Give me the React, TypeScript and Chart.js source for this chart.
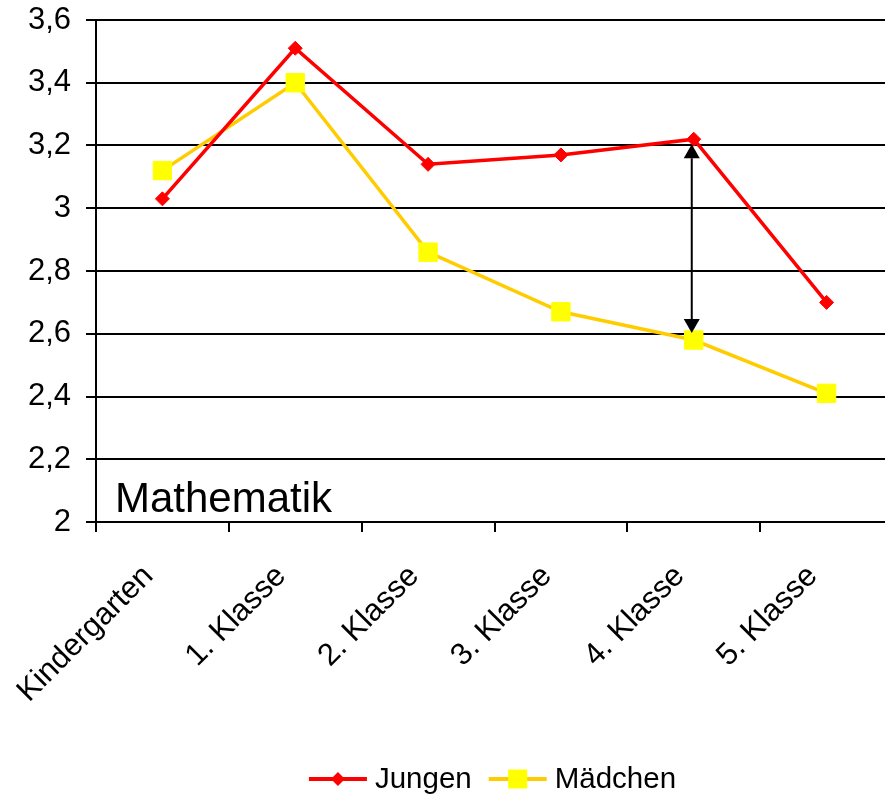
import { useEffect, useRef } from "react";
import { Chart, registerables } from "chart.js";

Chart.register(...registerables);

const categories = ["Kindergarten", "1. Klasse", "2. Klasse", "3. Klasse", "4. Klasse", "5. Klasse"];
const jungen = [3.03, 3.51, 3.14, 3.17, 3.22, 2.7];
const maedchen = [3.12, 3.4, 2.86, 2.67, 2.58, 2.41];
const yTicks = [2, 2.2, 2.4, 2.6, 2.8, 3, 3.2, 3.4, 3.6];
const subjectLabel = "Mathematik";
const gapCategoryIndex = 4; // arrow marks the gap at "4. Klasse"

const FONT = "'Liberation Sans', Arial, sans-serif";
const RED = "#ff0000";
const GOLD = "#ffcc00";
const YELLOW = "#ffff00";

const formatTick = (v: number) => String(Math.round(v * 10) / 10).replace(".", ",");

// Draws the subject caption, the double-headed gap arrow and the legend
const overlayPlugin = {
  id: "overlay",
  afterDraw(chart: any) {
    const { ctx, chartArea, scales } = chart;
    const x = scales.x;
    const y = scales.y;

    ctx.save();

    // subject caption
    ctx.fillStyle = "#000";
    ctx.font = `42px ${FONT}`;
    ctx.textAlign = "left";
    ctx.textBaseline = "alphabetic";
    ctx.fillText(subjectLabel, chartArea.left + 19, chartArea.bottom - 10);

    // double arrow between the two series
    const ax = x.getPixelForValue(gapCategoryIndex) - 2;
    const yTop = y.getPixelForValue(jungen[gapCategoryIndex]) + 5;
    const yBot = y.getPixelForValue(maedchen[gapCategoryIndex]) - 7;
    const headH = 14;
    const headW = 8;
    ctx.strokeStyle = "#000";
    ctx.lineWidth = 2;
    ctx.beginPath();
    ctx.moveTo(ax, yTop + headH);
    ctx.lineTo(ax, yBot - headH);
    ctx.stroke();
    ctx.fillStyle = "#000";
    ctx.beginPath();
    ctx.moveTo(ax, yTop);
    ctx.lineTo(ax - headW, yTop + headH);
    ctx.lineTo(ax + headW, yTop + headH);
    ctx.closePath();
    ctx.fill();
    ctx.beginPath();
    ctx.moveTo(ax, yBot);
    ctx.lineTo(ax - headW, yBot - headH);
    ctx.lineTo(ax + headW, yBot - headH);
    ctx.closePath();
    ctx.fill();

    // legend
    const items = chart.data.datasets.map((ds: any) => ({
      label: ds.label,
      line: ds.borderColor,
      fill: ds.pointBackgroundColor,
      style: ds.pointStyle,
      radius: ds.pointRadius,
    }));
    ctx.font = `29.5px ${FONT}`;
    const lineLen = 58;
    const textGap = 8;
    const itemGap = 17;
    const widths = items.map((it: any) => lineLen + textGap + ctx.measureText(it.label).width);
    const total = widths.reduce((a: number, b: number) => a + b, 0) + itemGap * (items.length - 1);
    let lx = (chartArea.left + chartArea.right) / 2 - total / 2 - 2;
    const ly = 779;
    items.forEach((it: any, i: number) => {
      ctx.strokeStyle = it.line;
      ctx.lineWidth = 4;
      ctx.beginPath();
      ctx.moveTo(lx, ly);
      ctx.lineTo(lx + lineLen, ly);
      ctx.stroke();
      const cx = lx + lineLen / 2;
      ctx.fillStyle = it.fill;
      ctx.beginPath();
      if (it.style === "rect") {
        ctx.rect(cx - 9.5, ly - 9.5, 19, 19);
      } else {
        const r = it.radius;
        ctx.moveTo(cx - r, ly);
        ctx.lineTo(cx, ly - r);
        ctx.lineTo(cx + r, ly);
        ctx.lineTo(cx, ly + r);
        ctx.closePath();
      }
      ctx.fill();
      ctx.fillStyle = "#000";
      ctx.textAlign = "left";
      ctx.textBaseline = "middle";
      ctx.fillText(it.label, lx + lineLen + textGap, ly + 1);
      lx += widths[i] + itemGap;
    });

    ctx.restore();
  },
};

export default function App() {
  const canvasRef = useRef<HTMLCanvasElement | null>(null);

  useEffect(() => {
    if (!canvasRef.current) return;
    const chart = new Chart(canvasRef.current, {
      type: "line",
      data: {
        labels: categories,
        datasets: [
          {
            label: "Jungen",
            data: jungen,
            borderColor: RED,
            backgroundColor: RED,
            borderWidth: 3.5,
            pointStyle: "rectRot",
            pointRadius: 7,
            pointBackgroundColor: RED,
            pointBorderColor: RED,
            pointBorderWidth: 1,
            tension: 0,
          },
          {
            label: "Mädchen",
            data: maedchen,
            borderColor: GOLD,
            backgroundColor: YELLOW,
            borderWidth: 3.5,
            pointStyle: "rect",
            pointRadius: 13,
            pointBackgroundColor: YELLOW,
            pointBorderColor: YELLOW,
            pointBorderWidth: 1,
            tension: 0,
          },
        ],
      },
      options: {
        responsive: false,
        animation: false,
        events: [],
        layout: { padding: { top: 20, left: 0, right: 0, bottom: 0 } },
        plugins: {
          legend: { display: false },
          tooltip: { enabled: false },
          title: { display: false },
        },
        scales: {
          x: {
            type: "category",
            offset: true,
            grid: {
              offset: true,
              drawOnChartArea: false,
              drawTicks: true,
              tickLength: 10,
              color: "#000",
              lineWidth: 2,
            },
            border: { display: true, color: "#000", width: 2 },
            ticks: {
              autoSkip: false,
              maxRotation: 45,
              minRotation: 45,
              padding: 26,
              labelOffset: -14,
              color: "#000",
              font: { family: FONT, size: 31 },
            },
            afterFit: (scale: any) => {
              scale.height = 273;
            },
          },
          y: {
            min: 2,
            max: 3.6,
            afterBuildTicks: (scale: any) => {
              scale.ticks = yTicks.map((v) => ({ value: v }));
            },
            grid: {
              color: "#000",
              lineWidth: 2,
              drawTicks: true,
              tickLength: 10,
            },
            border: { display: true, color: "#000", width: 2 },
            ticks: {
              padding: 15,
              color: "#000",
              font: { family: FONT, size: 31 },
              callback: (v: any) => formatTick(Number(v)),
            },
            afterFit: (scale: any) => {
              scale.width = 96;
              scale.paddingTop = 0;
              scale.paddingBottom = 0;
            },
          },
        },
      },
      plugins: [overlayPlugin],
    });
    return () => chart.destroy();
  }, []);

  return (
    <div
      style={{
        position: "fixed",
        left: 0,
        top: 0,
        width: 885,
        height: 795,
        overflow: "hidden",
        background: "#fff",
      }}
    >
      <canvas ref={canvasRef} width={907} height={795} style={{ display: "block" }} />
    </div>
  );
}
